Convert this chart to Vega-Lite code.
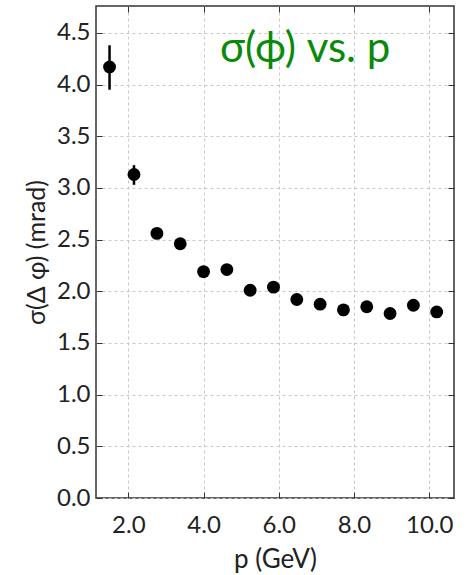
{
  "$schema": "https://vega.github.io/schema/vega-lite/v6.json",
  "width": 358,
  "height": 492,
  "autosize": {"type": "none"},
  "padding": {"left": 96, "top": 6, "right": 12, "bottom": 77},
  "background": "white",
  "config": {
    "font": "Lato",
    "view": {"stroke": "#333", "strokeWidth": 1.5},
    "axis": {"labelFont": "Lato", "titleFont": "Lato", "labelColor": "#222", "titleColor": "#222", "titleFontWeight": "normal", "domain": false, "gridColor": "#c8c8c8", "gridDash": [3, 3], "tickColor": "#333"}
  },
  "datasets": {
    "pts": [
      {"p": 1.50, "sigma": 4.17, "lo": 3.95, "hi": 4.38},
      {"p": 2.15, "sigma": 3.13, "lo": 3.03, "hi": 3.22},
      {"p": 2.76, "sigma": 2.56, "lo": 2.53, "hi": 2.59},
      {"p": 3.38, "sigma": 2.46, "lo": 2.43, "hi": 2.49},
      {"p": 4.00, "sigma": 2.19, "lo": 2.15, "hi": 2.23},
      {"p": 4.62, "sigma": 2.21, "lo": 2.18, "hi": 2.24},
      {"p": 5.24, "sigma": 2.01, "lo": 1.98, "hi": 2.04},
      {"p": 5.86, "sigma": 2.04, "lo": 2.01, "hi": 2.07},
      {"p": 6.48, "sigma": 1.92, "lo": 1.90, "hi": 1.94},
      {"p": 7.10, "sigma": 1.875, "lo": 1.855, "hi": 1.895},
      {"p": 7.72, "sigma": 1.82, "lo": 1.80, "hi": 1.84},
      {"p": 8.34, "sigma": 1.85, "lo": 1.83, "hi": 1.87},
      {"p": 8.96, "sigma": 1.785, "lo": 1.765, "hi": 1.805},
      {"p": 9.58, "sigma": 1.865, "lo": 1.845, "hi": 1.885},
      {"p": 10.20, "sigma": 1.80, "lo": 1.78, "hi": 1.82}
    ],
    "ann": [{"p": 6.7, "sigma": 4.34, "label": "σ(ϕ) vs. p"}]
  },
  "layer": [
    {
      "data": {"name": "pts"},
      "mark": {"type": "rule", "color": "black", "strokeWidth": 2.5},
      "encoding": {
        "x": {"field": "p", "type": "quantitative", "scale": {"domain": [1.14, 10.66], "nice": false, "zero": false},
          "axis": {"orient": "bottom", "title": "p (GeV)", "values": [2, 4, 6, 8, 10], "format": ".1f", "labelFontSize": 24, "titleFontSize": 26, "tickSize": -6, "labelPadding": 21, "titlePadding": 9, "grid": true}},
        "y": {"field": "lo", "type": "quantitative", "scale": {"domain": [0, 4.76], "nice": false},
          "axis": {"orient": "left", "title": "σ(Δ φ) (mrad)", "values": [0, 0.5, 1, 1.5, 2, 2.5, 3, 3.5, 4, 4.5], "format": ".1f", "labelFontSize": 24, "titleFontSize": 25, "tickSize": -6, "labelPadding": 12, "titlePadding": 7, "grid": true}},
        "y2": {"field": "hi"}
      }
    },
    {
      "data": {"name": "pts"},
      "mark": {"type": "point", "filled": true, "color": "black", "opacity": 1, "size": 165},
      "encoding": {
        "x": {"field": "p", "type": "quantitative", "scale": {"domain": [1.14, 10.66], "nice": false, "zero": false}, "axis": null},
        "y": {"field": "sigma", "type": "quantitative", "scale": {"domain": [0, 4.76], "nice": false}, "axis": null}
      }
    },
    {
      "data": {"name": "ann"},
      "mark": {"type": "text", "color": "#0a8a0a", "fontSize": 42, "font": "Lato", "align": "center", "baseline": "middle"},
      "encoding": {
        "x": {"field": "p", "type": "quantitative", "scale": {"domain": [1.14, 10.66], "nice": false, "zero": false}, "axis": {"orient": "top", "labels": false, "title": null, "values": [2, 4, 6, 8, 10], "tickSize": -6, "grid": false}},
        "y": {"field": "sigma", "type": "quantitative", "scale": {"domain": [0, 4.76], "nice": false}, "axis": {"orient": "right", "labels": false, "title": null, "values": [0, 0.5, 1, 1.5, 2, 2.5, 3, 3.5, 4, 4.5], "tickSize": -6, "grid": false}},
        "text": {"field": "label"}
      }
    }
  ],
  "resolve": {"scale": {"x": "independent", "y": "independent"}, "axis": {"x": "independent", "y": "independent"}}
}
